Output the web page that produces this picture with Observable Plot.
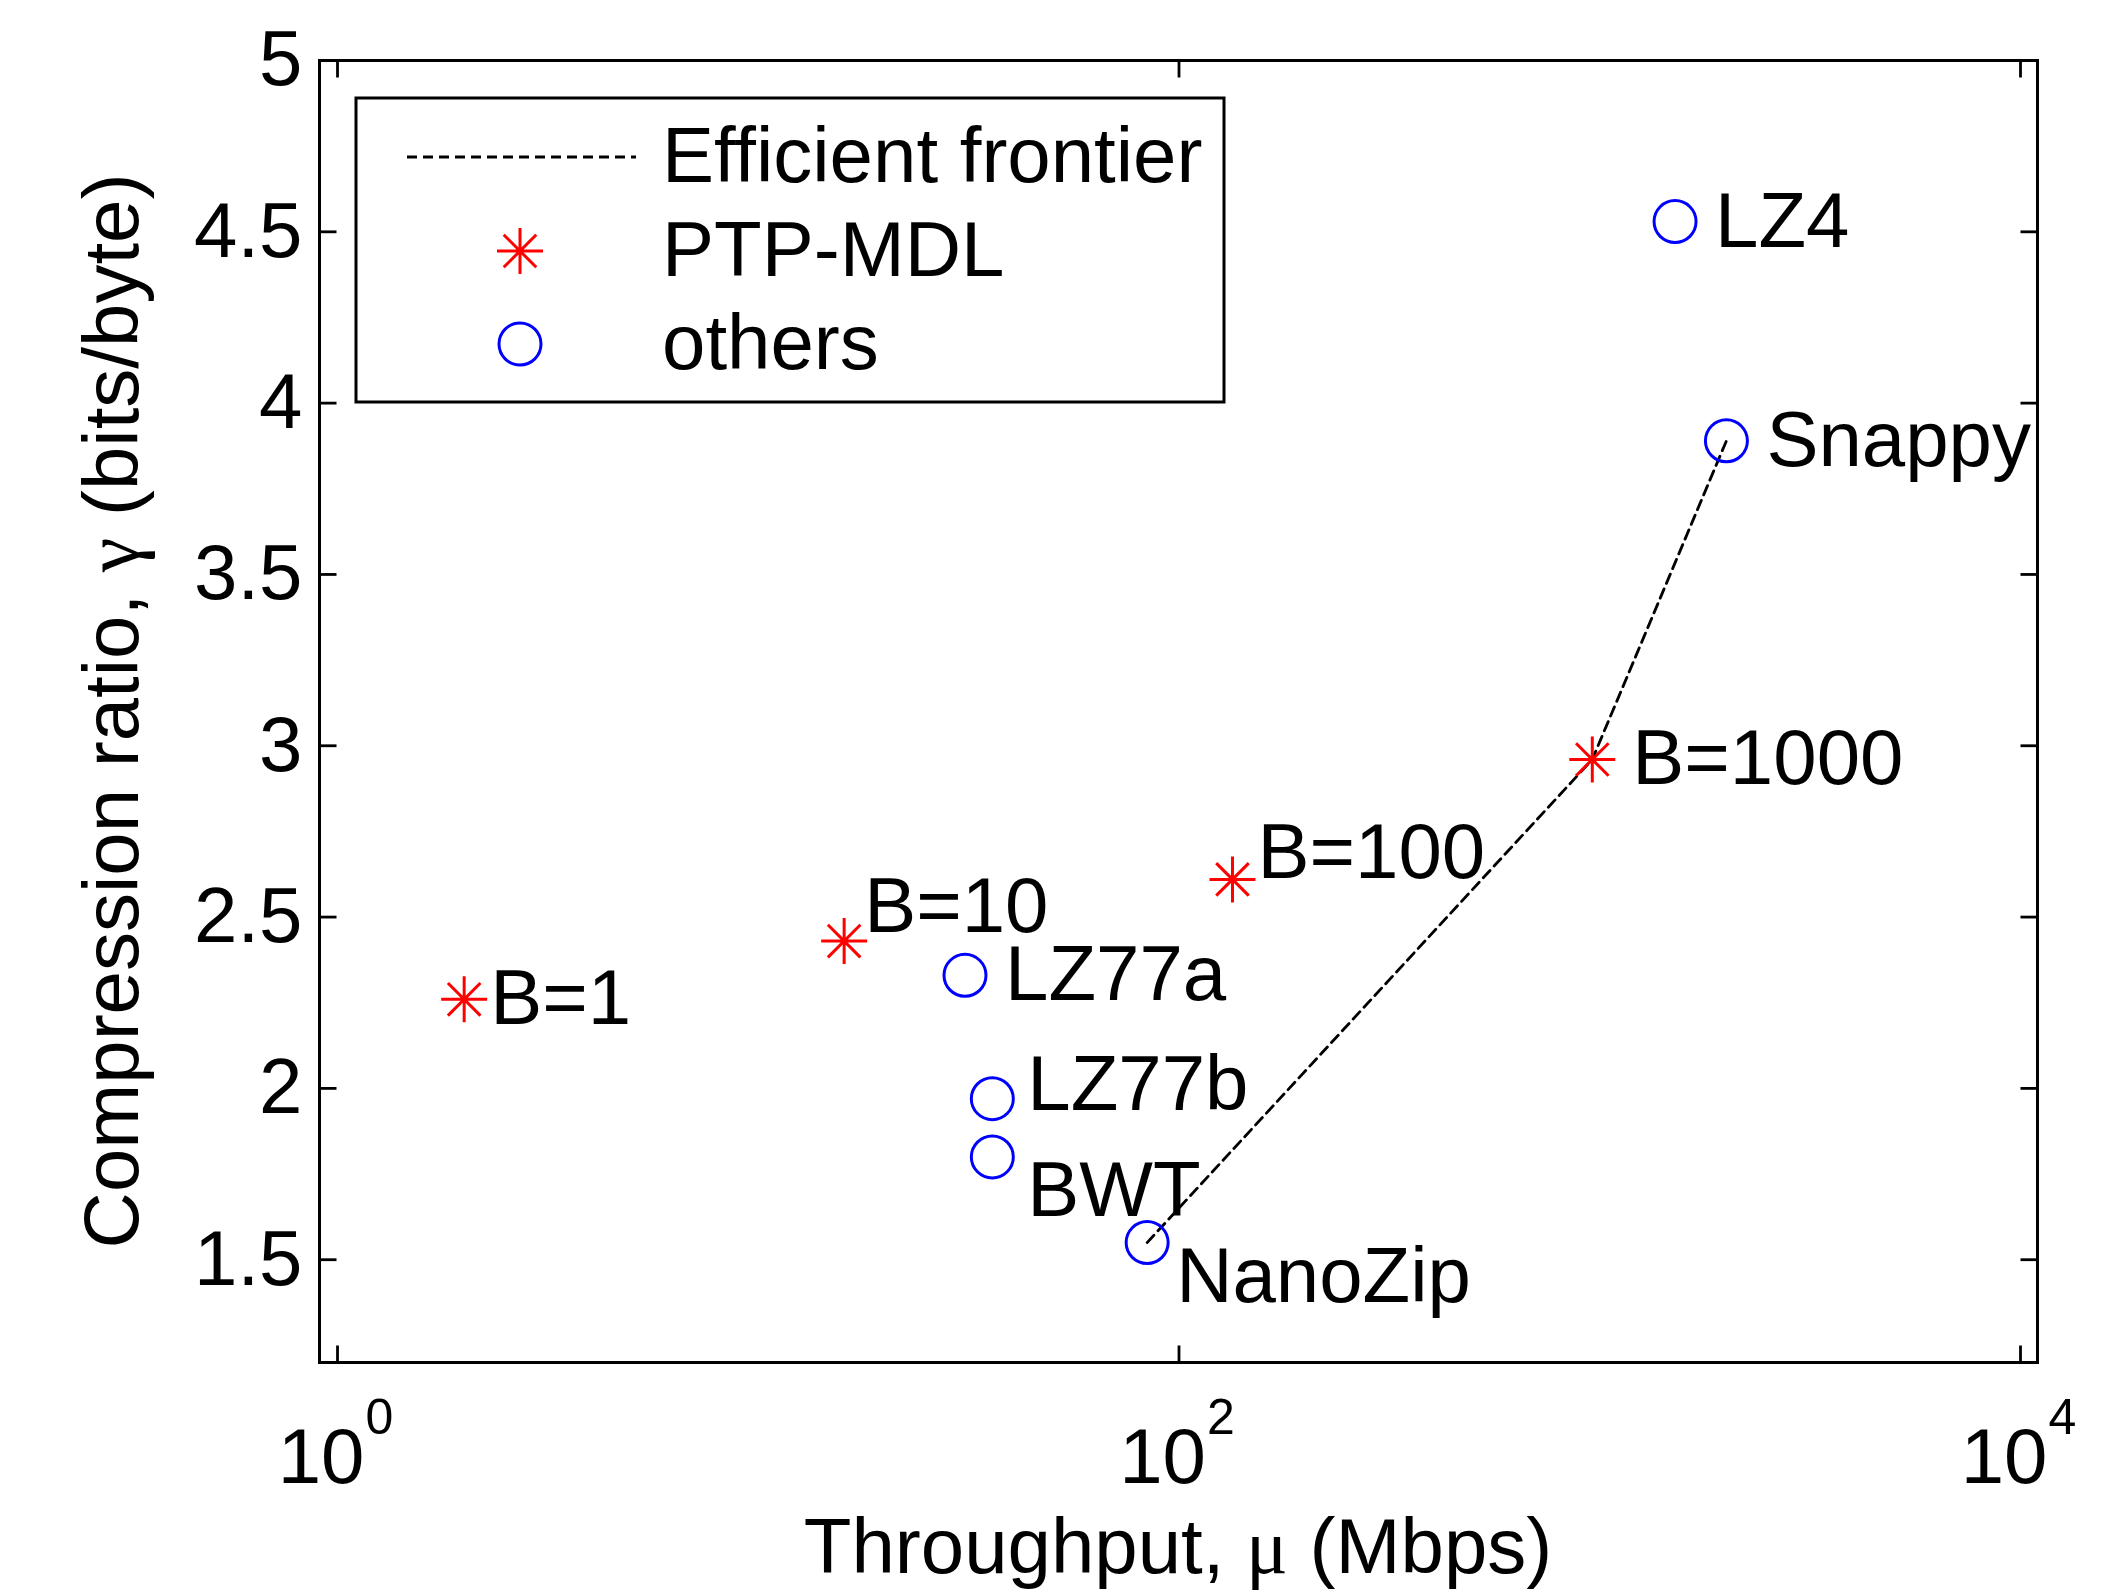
<!DOCTYPE html>
<html>
<head>
<meta charset="utf-8">
<script src="https://cdn.jsdelivr.net/npm/d3@7"></script>
<script src="https://cdn.jsdelivr.net/npm/@observablehq/plot@0.6"></script>
<style>
html, body { margin: 0; padding: 0; background: #ffffff; }
svg { display: block; }
</style>
</head>
<body>
<div id="chart"></div>
<script>
// ---- Data ----
const ptpNames = ["B=1", "B=10", "B=100", "B=1000"];
const ptpThroughput = [2.0, 16, 134, 960];
const ptpRatio = [2.26, 2.43, 2.61, 2.96];

const otherNames = ["LZ77a", "LZ77b", "BWT", "NanoZip", "LZ4", "Snappy"];
const otherThroughput = [31, 36, 36, 84, 1510, 2000];
const otherRatio = [2.33, 1.97, 1.80, 1.55, 4.53, 3.89];

const frontierNames = ["NanoZip", "B=1000", "Snappy"];

const xTicks = [1, 100, 10000];
const xTickExponents = ["0", "2", "4"];
const yTicks = [1.5, 2, 2.5, 3, 3.5, 4, 4.5, 5];

const legendLabels = ["Efficient frontier", "PTP-MDL", "others"];
const xLabel = ["Throughput, ", "\u03bc", " (Mbps)"];
const yLabel = ["Compression ratio, ", "\u03b3", " (bits/byte)"];

// ---- Build tables ----
const ptp = ptpNames.map((name, i) => ({name, mu: ptpThroughput[i], gamma: ptpRatio[i]}));
const others = otherNames.map((name, i) => ({name, mu: otherThroughput[i], gamma: otherRatio[i]}));
const allPts = [...ptp, ...others];
const frontier = frontierNames.map(n => allPts.find(d => d.name === n));
const xTickTable = xTicks.map((v, i) => ({v, e: xTickExponents[i]}));

// ---- Styles ----
const W = 2113, H = 1596;
const FONT = "Liberation Sans, Arial, Helvetica, sans-serif";
const FS = 78;
const RED = "#ff0000", BLUE = "#0000ff";
const STAR_R = 23;
const TICK = 17;
const DASH = "10,6";

const starSymbol = {
  draw(ctx) {
    const r = STAR_R, d = r * Math.SQRT1_2;
    ctx.moveTo(-r, 0); ctx.lineTo(r, 0);
    ctx.moveTo(0, -r); ctx.lineTo(0, r);
    ctx.moveTo(-d, -d); ctx.lineTo(d, d);
    ctx.moveTo(-d, d); ctx.lineTo(d, -d);
  }
};
const tickSym = (dx, dy) => ({draw(ctx) { ctx.moveTo(0, 0); ctx.lineTo(dx, dy); }});

const labelMark = (names, dx, dy) => Plot.text(
  allPts.filter(d => names.includes(d.name)),
  {x: "mu", y: "gamma", text: "name", textAnchor: "start", lineAnchor: "middle",
   dx, dy, fontSize: FS, fill: "black"}
);

const chart = Plot.plot({
  width: W,
  height: H,
  marginLeft: 319,
  marginRight: 76,
  marginTop: 60,
  marginBottom: 234,
  style: {fontFamily: FONT, background: "#ffffff", color: "black", overflow: "visible"},
  x: {type: "log", domain: [Math.pow(10, -0.0428), Math.pow(10, 4.0404)], axis: null},
  y: {domain: [1.2, 5], axis: null},
  marks: [
    // inward ticks on all four sides
    Plot.dot(yTicks, {y: d => d, frameAnchor: "left", symbol: tickSym(TICK, 0), stroke: "black", strokeWidth: 2.8, fill: "none"}),
    Plot.dot(yTicks, {y: d => d, frameAnchor: "right", symbol: tickSym(-TICK, 0), stroke: "black", strokeWidth: 2.8, fill: "none"}),
    Plot.dot(xTicks, {x: d => d, frameAnchor: "bottom", symbol: tickSym(0, -TICK), stroke: "black", strokeWidth: 2.8, fill: "none"}),
    Plot.dot(xTicks, {x: d => d, frameAnchor: "top", symbol: tickSym(0, TICK), stroke: "black", strokeWidth: 2.8, fill: "none"}),
    // y tick labels
    Plot.text(yTicks, {y: d => d, frameAnchor: "left", text: d => String(d), textAnchor: "end", lineAnchor: "middle", dx: -17, fontSize: FS, fill: "black"}),
    // x tick labels: 10 with superscript exponent
    Plot.text(xTickTable, {x: "v", frameAnchor: "bottom", text: d => "10", textAnchor: "end", lineAnchor: "bottom", dx: 27, dy: 120, fontSize: FS, fill: "black"}),
    Plot.text(xTickTable, {x: "v", frameAnchor: "bottom", text: "e", textAnchor: "start", lineAnchor: "bottom", dx: 28, dy: 71, fontSize: 50, fill: "black"}),
    // efficient frontier
    Plot.line(frontier, {x: "mu", y: "gamma", stroke: "black", strokeWidth: 2.8, strokeDasharray: DASH}),
    // PTP-MDL stars
    Plot.dot(ptp, {x: "mu", y: "gamma", symbol: starSymbol, stroke: RED, strokeWidth: 3, fill: "none"}),
    // other compressors
    Plot.dot(others, {x: "mu", y: "gamma", r: 21, stroke: BLUE, strokeWidth: 3, fill: "none"}),
    // point labels
    labelMark(["LZ4", "Snappy", "B=1000", "LZ77a"], 40, 0),
    labelMark(["B=1"], 26, 0),
    labelMark(["LZ77b"], 35, -14),
    labelMark(["BWT"], 35, 34),
    labelMark(["NanoZip"], 29, 34),
    labelMark(["B=10"], 20, -34),
    labelMark(["B=100"], 25, -26),
    // axes box
    Plot.frame({stroke: "black", strokeWidth: 3})
  ]
});

document.getElementById("chart").appendChild(chart);

// ---- Axis titles and legend (decorations) ----
const svg = d3.select(chart);

const yl = svg.append("text")
  .attr("transform", "translate(138,711) rotate(-90)")
  .attr("text-anchor", "middle")
  .attr("font-family", FONT).attr("font-size", FS).attr("fill", "black");
yl.append("tspan").text(yLabel[0]);
yl.append("tspan").attr("font-family", "Liberation Serif, serif").text(yLabel[1]);
yl.append("tspan").text(yLabel[2]);

const xl = svg.append("text")
  .attr("x", 1178).attr("y", 1573)
  .attr("text-anchor", "middle")
  .attr("font-family", FONT).attr("font-size", FS).attr("fill", "black");
xl.append("tspan").text(xLabel[0]);
xl.append("tspan").attr("font-family", "Liberation Serif, serif").text(xLabel[1]);
xl.append("tspan").text(xLabel[2]);

const lg = svg.append("g");
lg.append("rect").attr("x", 356).attr("y", 98).attr("width", 868).attr("height", 304)
  .attr("fill", "white").attr("stroke", "black").attr("stroke-width", 3);
const rows = [157, 251, 344];
lg.append("line").attr("x1", 407).attr("x2", 636).attr("y1", rows[0]).attr("y2", rows[0])
  .attr("stroke", "black").attr("stroke-width", 2.8).attr("stroke-dasharray", DASH);
const sp = d3.path(); starSymbol.draw(sp);
lg.append("path").attr("d", sp.toString()).attr("transform", `translate(520,${rows[1]})`)
  .attr("stroke", RED).attr("stroke-width", 3).attr("fill", "none");
lg.append("circle").attr("cx", 520).attr("cy", rows[2]).attr("r", 21)
  .attr("stroke", BLUE).attr("stroke-width", 3).attr("fill", "none");
legendLabels.forEach((t, i) => {
  lg.append("text").attr("x", 662).attr("y", rows[i]).attr("dy", "0.32em")
    .attr("text-anchor", "start")
    .attr("font-family", FONT).attr("font-size", FS).attr("fill", "black").text(t);
});
</script>
</body>
</html>
